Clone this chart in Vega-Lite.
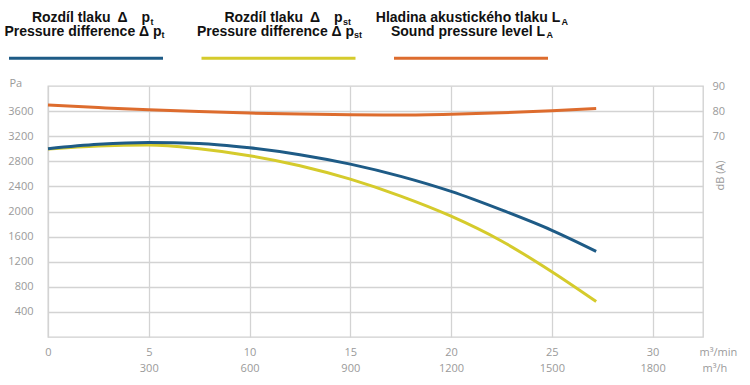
{
  "$schema": "https://vega.github.io/schema/vega-lite/v6.json",
  "width": 655,
  "height": 251,
  "autosize": {"type": "none"},
  "padding": {"left": 48, "top": 86, "right": 47, "bottom": 48},
  "background": "white",
  "config": {
    "view": {"stroke": "#cfcfcf", "strokeWidth": 1.3},
    "axis": {
      "labelFont": "Open Sans",
      "labelFontSize": 11,
      "labelColor": "#9a9a9a",
      "labelOverlap": false,
      "labelFlush": false,
      "titleFont": "Open Sans",
      "titleFontSize": 11,
      "titleColor": "#9a9a9a",
      "titleFontWeight": "normal",
      "domain": false,
      "ticks": false,
      "gridColor": "#d3d3d3",
      "gridWidth": 1.3
    }
  },
  "datasets": {
    "curves": [
      {"q": 0, "qh": 0, "pt": 3000, "pst": 2995, "la": 82.4},
      {"q": 2.5, "qh": 150, "pt": 3070, "pst": 3045, "la": 81.4},
      {"q": 5, "qh": 300, "pt": 3100, "pst": 3060, "la": 80.5},
      {"q": 7.5, "qh": 450, "pt": 3085, "pst": 3000, "la": 79.8},
      {"q": 10, "qh": 600, "pt": 3015, "pst": 2890, "la": 79.2},
      {"q": 12.5, "qh": 750, "pt": 2905, "pst": 2730, "la": 78.8},
      {"q": 15, "qh": 900, "pt": 2755, "pst": 2515, "la": 78.5},
      {"q": 17.5, "qh": 1050, "pt": 2560, "pst": 2245, "la": 78.4},
      {"q": 20, "qh": 1200, "pt": 2320, "pst": 1925, "la": 78.7},
      {"q": 22.5, "qh": 1350, "pt": 2025, "pst": 1530, "la": 79.3},
      {"q": 25, "qh": 1500, "pt": 1700, "pst": 1040, "la": 80.1},
      {"q": 27.2, "qh": 1632, "pt": 1365, "pst": 565, "la": 81.0}
    ],
    "legend": [
      {"series": "pt", "l1": "Rozdíl tlaku\u2002Δ\u2003p", "l2": "Pressure difference Δ p", "sub": "t"},
      {"series": "pst", "l1": "Rozdíl tlaku\u2002Δ\u2003p", "l2": "Pressure difference Δ p", "sub": "st"},
      {"series": "LA", "l1": "Hladina akustického tlaku L", "l2": "Sound pressure level L", "sub": "A"}
    ]
  },
  "layer": [
    {
      "data": {"name": "curves"},
      "layer": [
        {
          "mark": {"type": "line", "color": "#d5cb2c", "strokeWidth": 3, "interpolate": "monotone"},
          "encoding": {
            "x": {
              "field": "q", "type": "quantitative",
              "scale": {"domain": [0, 32.5], "nice": false},
              "axis": {
                "values": [0, 5, 10, 15, 20, 25, 30],
                "tickCount": 20,
                "format": "d",
                "grid": true,
                "labelPadding": 9,
                "title": "m³/min",
                "titleX": 651, "titleY": 15,
                "titleAlign": "left", "titleBaseline": "middle", "titleAnchor": null
              }
            },
            "y": {
              "field": "pst", "type": "quantitative",
              "scale": {"domain": [0, 4000], "nice": false},
              "axis": {
                "values": [400, 800, 1200, 1600, 2000, 2400, 2800, 3200, 3600],
                "tickCount": 20,
                "format": "d",
                "grid": true,
                "labelPadding": 15,
                "title": "Pa",
                "titleAngle": 0,
                "titleX": -39, "titleY": -3,
                "titleAlign": "left", "titleBaseline": "middle", "titleAnchor": null
              }
            }
          }
        },
        {
          "mark": {"type": "line", "color": "#1e5b86", "strokeWidth": 3, "interpolate": "monotone"},
          "encoding": {
            "x": {"field": "q", "type": "quantitative"},
            "y": {"field": "pt", "type": "quantitative"}
          }
        }
      ]
    },
    {
      "data": {"name": "curves"},
      "mark": {"type": "line", "color": "#dd6c2e", "strokeWidth": 3, "interpolate": "monotone"},
      "encoding": {
        "x": {
          "field": "qh", "type": "quantitative",
          "scale": {"domain": [0, 1950], "nice": false},
          "axis": {
            "orient": "bottom",
            "offset": 16,
            "values": [300, 600, 900, 1200, 1500, 1800],
            "tickCount": 20,
            "format": "d",
            "grid": false,
            "labelPadding": 9,
            "title": "m³/h",
            "titleX": 654, "titleY": 15,
            "titleAlign": "left", "titleBaseline": "middle", "titleAnchor": null
          }
        },
        "y": {
          "field": "la", "type": "quantitative",
          "scale": {"domain": [-10, 90], "nice": false},
          "axis": {
            "orient": "right",
            "values": [70, 80, 90],
            "tickCount": 20,
            "format": "d",
            "grid": false,
            "labelPadding": 9,
            "title": "dB (A)",
            "titleAngle": 270,
            "titleX": 17, "titleY": 89,
            "titleAlign": "center", "titleBaseline": "middle", "titleAnchor": null
          }
        }
      }
    },
    {
      "data": {"name": "legend"},
      "layer": [
        {
          "mark": {"type": "tick", "orient": "horizontal", "size": 154, "thickness": 3, "opacity": 1},
          "encoding": {
            "x": {"field": "series", "type": "nominal", "scale": {"type": "point", "domain": ["pt", "pst", "LA"], "range": [38, 423], "padding": 0}, "axis": null},
            "y": {"datum": "sym", "type": "nominal", "scale": {"type": "point", "domain": ["l1", "sym"], "range": [-64.3, -27.7], "padding": 0}, "axis": null},
            "color": {"field": "series", "type": "nominal", "scale": {"domain": ["pt", "pst", "LA"], "range": ["#1e5b86", "#d5cb2c", "#dd6c2e"]}, "legend": null}
          }
        },
        {
          "transform": [{"filter": {"field": "series", "oneOf": ["pt", "pst"]}}],
          "mark": {"type": "text", "align": "center", "baseline": "alphabetic", "dx": 5, "font": "Liberation Sans", "fontWeight": "bold", "fontSize": 14, "color": "#111111"},
          "encoding": {
            "x": {"field": "series", "type": "nominal"},
            "y": {"datum": "l1", "type": "nominal"},
            "text": {"field": "l1"}
          }
        },
        {
          "transform": [{"filter": {"field": "series", "equal": "LA"}}],
          "mark": {"type": "text", "align": "center", "baseline": "alphabetic", "dx": -3, "font": "Liberation Sans", "fontWeight": "bold", "fontSize": 14, "color": "#111111"},
          "encoding": {
            "x": {"field": "series", "type": "nominal"},
            "y": {"datum": "l1", "type": "nominal"},
            "text": {"field": "l1"}
          }
        },
        {
          "mark": {"type": "text", "align": "center", "baseline": "alphabetic", "dx": -3, "dy": 14, "font": "Liberation Sans", "fontWeight": "bold", "fontSize": 14, "color": "#111111"},
          "encoding": {
            "x": {"field": "series", "type": "nominal"},
            "y": {"datum": "l1", "type": "nominal"},
            "text": {"field": "l2"}
          }
        },
        {
          "transform": [{"filter": {"field": "series", "oneOf": ["pt", "pst"]}}],
          "mark": {"type": "text", "align": "left", "baseline": "alphabetic", "dx": 64.5, "dy": 3, "font": "Liberation Sans", "fontWeight": "bold", "fontSize": 9, "color": "#111111"},
          "encoding": {
            "x": {"field": "series", "type": "nominal"},
            "y": {"datum": "l1", "type": "nominal"},
            "text": {"field": "sub"}
          }
        },
        {
          "transform": [{"filter": {"field": "series", "equal": "LA"}}],
          "mark": {"type": "text", "align": "left", "baseline": "alphabetic", "dx": 90.5, "dy": 3, "font": "Liberation Sans", "fontWeight": "bold", "fontSize": 9, "color": "#111111"},
          "encoding": {
            "x": {"field": "series", "type": "nominal"},
            "y": {"datum": "l1", "type": "nominal"},
            "text": {"field": "sub"}
          }
        },
        {
          "mark": {"type": "text", "align": "left", "baseline": "alphabetic", "dx": 75.5, "dy": 16.5, "font": "Liberation Sans", "fontWeight": "bold", "fontSize": 9, "color": "#111111"},
          "encoding": {
            "x": {"field": "series", "type": "nominal"},
            "y": {"datum": "l1", "type": "nominal"},
            "text": {"field": "sub"}
          }
        }
      ]
    }
  ],
  "resolve": {
    "scale": {"x": "independent", "y": "independent", "color": "independent"},
    "axis": {"x": "independent", "y": "independent"}
  }
}
